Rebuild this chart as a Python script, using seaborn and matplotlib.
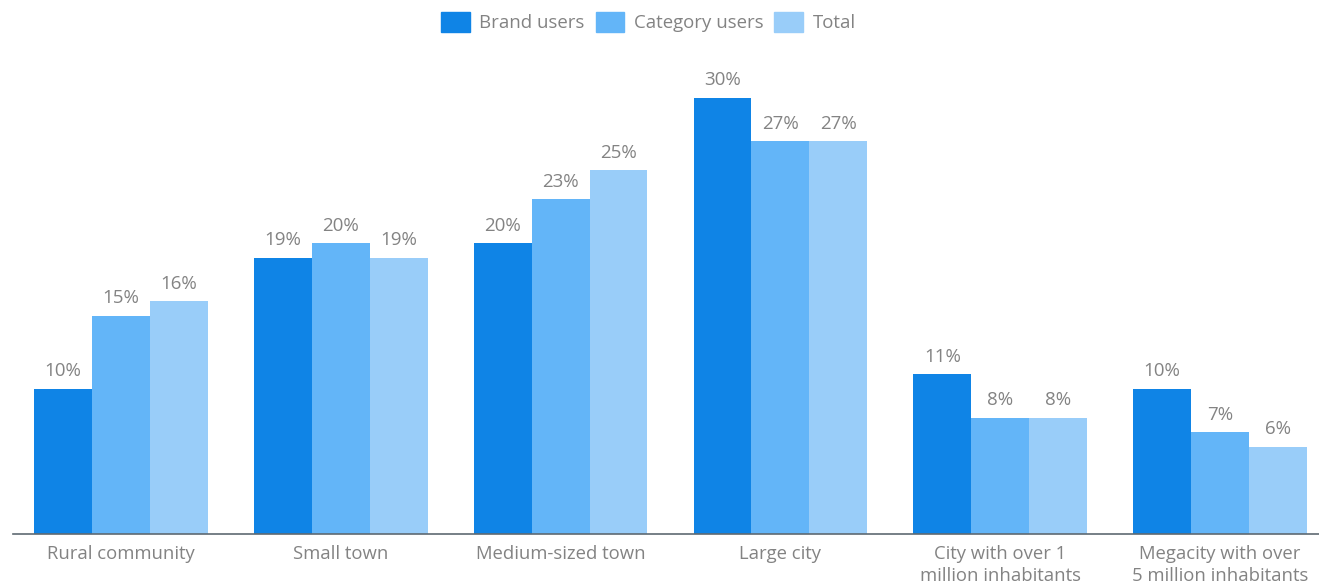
import numpy as np
import pandas as pd
import matplotlib
matplotlib.use("Agg")
import matplotlib.pyplot as plt
import seaborn as sns

categories = [
    "Rural community",
    "Small town",
    "Medium-sized town",
    "Large city",
    "City with over 1\nmillion inhabitants",
    "Megacity with over\n5 million inhabitants",
]
series_names = ["Brand users", "Category users", "Total"]
brand_users = [10, 19, 20, 30, 11, 10]
category_users = [15, 20, 23, 27, 8, 7]
total = [16, 19, 25, 27, 8, 6]
colors = ["#0F84E6", "#63B5F8", "#99CDF9"]
text_gray = "#838383"

df = pd.DataFrame({
    "category": categories * 3,
    "series": [s for s in series_names for _ in categories],
    "value": brand_users + category_users + total,
})

sns.set_style("white")
plt.rcParams["font.family"] = ["Open Sans", "DejaVu Sans"]

fig = plt.figure(figsize=(13.19, 5.87), dpi=100)
left = 13 / 1319
ax = fig.add_axes([left, 0.0903, 1.0 - left, 0.808])

sns.barplot(data=df, x="category", y="value", hue="series",
            palette=colors, width=0.79, saturation=1, ax=ax,
            edgecolor="none", linewidth=0)

for cont in ax.containers:
    ax.bar_label(cont, labels=[f"{v:g}%" for v in cont.datavalues],
                 padding=6, fontsize=13.5, color=text_gray)

ax.set_xlim(-0.491, 5.45)
ax.set_ylim(0, 32.6)
ax.set_xlabel("")
ax.set_ylabel("")
ax.set_yticks([])
ax.tick_params(axis="x", length=0, pad=8, labelsize=13.3, labelcolor=text_gray)
for lbl in ax.get_xticklabels():
    lbl.set_linespacing(1.3)
    lbl.set_verticalalignment("top")
for side in ["top", "right", "left"]:
    ax.spines[side].set_visible(False)
ax.spines["bottom"].set_color("#5f6a72")
ax.spines["bottom"].set_linewidth(1.2)

ax.legend_.remove()
handles = [plt.Rectangle((0, 0), 1, 1, color=c) for c in colors]
fig.legend(handles, series_names, loc="center", bbox_to_anchor=(0.4915, 0.962),
           ncol=3, frameon=False, fontsize=13.4, labelcolor=text_gray,
           handlelength=1.55, handleheight=1.25, handletextpad=0.5,
           columnspacing=0.6)

fig.savefig("out.png", dpi=100, facecolor="white")
